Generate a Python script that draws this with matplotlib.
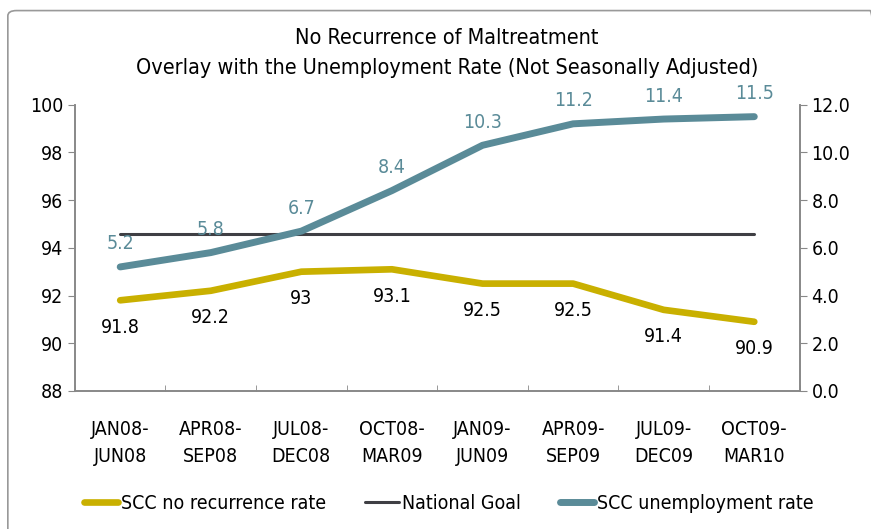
import matplotlib
matplotlib.use("Agg")
import matplotlib.pyplot as plt
from matplotlib.patches import FancyBboxPatch
import numpy as np

plt.rcParams['font.family'] = ['DejaVu Sans']
plt.rcParams['font.stretch'] = 'condensed'

periods = ["JAN08-\nJUN08", "APR08-\nSEP08", "JUL08-\nDEC08", "OCT08-\nMAR09",
           "JAN09-\nJUN09", "APR09-\nSEP09", "JUL09-\nDEC09", "OCT09-\nMAR10"]
no_recurrence = [91.8, 92.2, 93, 93.1, 92.5, 92.5, 91.4, 90.9]
national_goal = [94.6] * 8
unemployment = [5.2, 5.8, 6.7, 8.4, 10.3, 11.2, 11.4, 11.5]

gold = "#C9B000"
dark = "#3F3F44"
teal = "#5A8B98"
fs = 14

fig = plt.figure(figsize=(8.71, 5.29), dpi=100)
fig.patches.append(FancyBboxPatch((0.009, -0.05), 1.0, 1.03, boxstyle="round,pad=0,rounding_size=0.01",
                                  transform=fig.transFigure, fill=False, edgecolor="#999999", lw=1.2))

ax = fig.add_axes([0.086, 0.261, 0.832, 0.541])
ax2 = ax.twinx()
x = np.arange(len(periods))

ax.plot(x, no_recurrence, color=gold, lw=4.8, solid_capstyle="round", label="SCC no recurrence rate")
ax.plot(x, national_goal, color=dark, lw=2.2, solid_capstyle="round", label="National Goal")
ax2.plot(x, unemployment, color=teal, lw=5, solid_capstyle="round", label="SCC unemployment rate")

for xi, v in zip(x, no_recurrence):
    ax.annotate(f"{v:g}", (xi, v), xytext=(0, -19.5), textcoords="offset points",
                ha="center", va="center", fontsize=fs, color="black")
for xi, v in zip(x, unemployment):
    ax2.annotate(f"{v:.1f}", (xi, v), xytext=(0, 16.5), textcoords="offset points",
                 ha="center", va="center", fontsize=fs, color=teal)

ax.set_xlim(-0.5, 7.5)
ax.set_ylim(88, 100)
ax.set_yticks(range(88, 101, 2))
ax2.set_ylim(0, 12)
ax2.set_yticks(np.arange(0, 12.1, 2))
ax2.set_yticklabels([f"{v:.1f}" for v in np.arange(0, 12.1, 2)])

ax.set_xticks(x)
ax.set_xticklabels(periods, fontsize=fs, linespacing=1.55)
ax.set_xticks(np.arange(-0.5, 8, 1), minor=True)
ax.tick_params(axis="x", which="major", length=0, pad=21)
ax.tick_params(axis="x", which="minor", length=4, direction="in", color="#888888")
ax.tick_params(axis="y", labelsize=fs, length=5, color="#888888")
ax2.tick_params(axis="y", labelsize=fs, length=5, color="#888888")

for a in (ax, ax2):
    a.spines["top"].set_visible(False)
    for s in ("left", "right", "bottom"):
        a.spines[s].set_color("#888888")
        a.spines[s].set_linewidth(1.2)

fig.text(0.513, 0.928, "No Recurrence of Maltreatment", ha="center", va="center", fontsize=15.5)
fig.text(0.513, 0.872, "Overlay with the Unemployment Rate (Not Seasonally Adjusted)",
         ha="center", va="center", fontsize=15.5)

h1, l1 = ax.get_legend_handles_labels()
h2, l2 = ax2.get_legend_handles_labels()
fig.legend(h1 + h2, l1 + l2, loc="center", bbox_to_anchor=(0.515, 0.049), ncol=3, frameon=False,
           fontsize=fs, handlelength=1.75, handletextpad=0.15, columnspacing=2.0)

fig.savefig("out.png", dpi=100)
